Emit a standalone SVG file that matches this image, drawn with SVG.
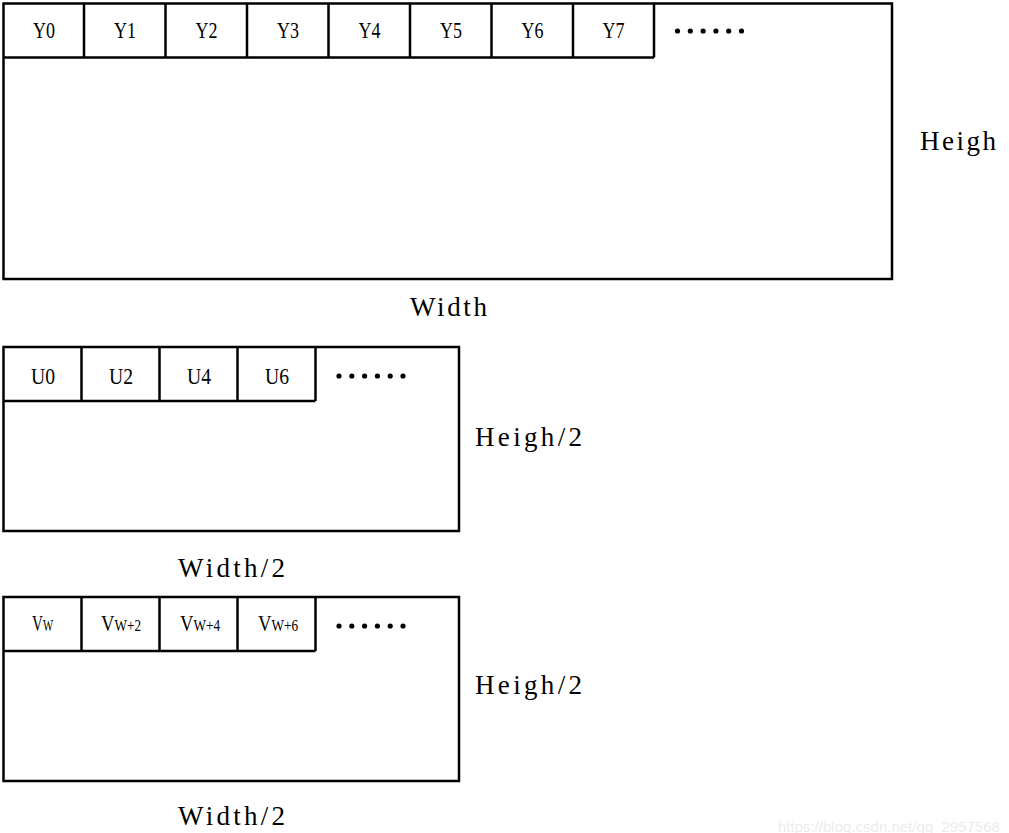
<svg xmlns="http://www.w3.org/2000/svg" width="1009" height="833" viewBox="0 0 1009 833">
<style>
.box{fill:#fff;stroke:#000;stroke-width:2.5}
.cell{fill:none;stroke:#000;stroke-width:2.5}
.lbl{font-family:"Liberation Serif","Times New Roman",serif;font-size:24px;fill:#000;text-anchor:middle}
.sub{font-size:17px}
.dim{font-family:"Liberation Serif","Times New Roman",serif;font-size:27px;fill:#000}
.dot{fill:#000}
.wm{font-family:"Liberation Sans",Arial,sans-serif;font-size:15px;fill:#ececec}
</style>
<defs>
<g id="dots">
<circle class="dot" cx="0" cy="0" r="2.6"/>
<circle class="dot" cx="12.8" cy="0" r="2.6"/>
<circle class="dot" cx="25.6" cy="0" r="2.6"/>
<circle class="dot" cx="38.4" cy="0" r="2.6"/>
<circle class="dot" cx="51.2" cy="0" r="2.6"/>
<circle class="dot" cx="64" cy="0" r="2.6"/>
</g>
</defs>
<rect width="1009" height="833" fill="#fff"/>

<g id="y-plane">
<rect class="box" x="3.5" y="3.5" width="888.5" height="275.5"/>
<path class="cell" d="M3.5 57.5H654M84 3.5V57.5M165.5 3.5V57.5M247 3.5V57.5M328.5 3.5V57.5M410 3.5V57.5M491.5 3.5V57.5M573 3.5V57.5M654 3.5V57.5"/>
<text class="lbl" x="44" y="38" textLength="22" lengthAdjust="spacingAndGlyphs">Y0</text>
<text class="lbl" x="125" y="38" textLength="22" lengthAdjust="spacingAndGlyphs">Y1</text>
<text class="lbl" x="206.5" y="38" textLength="22" lengthAdjust="spacingAndGlyphs">Y2</text>
<text class="lbl" x="288" y="38" textLength="22" lengthAdjust="spacingAndGlyphs">Y3</text>
<text class="lbl" x="369.5" y="38" textLength="22" lengthAdjust="spacingAndGlyphs">Y4</text>
<text class="lbl" x="451" y="38" textLength="22" lengthAdjust="spacingAndGlyphs">Y5</text>
<text class="lbl" x="532.5" y="38" textLength="22" lengthAdjust="spacingAndGlyphs">Y6</text>
<text class="lbl" x="613.5" y="38" textLength="22" lengthAdjust="spacingAndGlyphs">Y7</text>
<use href="#dots" x="677.5" y="31"/>
<text class="dim" x="920" y="150" textLength="76" lengthAdjust="spacing">Heigh</text>
<text class="dim" x="410" y="316" textLength="77" lengthAdjust="spacing">Width</text>
</g>

<g id="u-plane">
<rect class="box" x="3.5" y="347" width="455.5" height="184"/>
<path class="cell" d="M3.5 401H315.5M81.5 347V401M159.5 347V401M237.5 347V401M315.5 347V401"/>
<text class="lbl" x="43" y="384" textLength="24" lengthAdjust="spacingAndGlyphs">U0</text>
<text class="lbl" x="121" y="384" textLength="24" lengthAdjust="spacingAndGlyphs">U2</text>
<text class="lbl" x="199" y="384" textLength="24" lengthAdjust="spacingAndGlyphs">U4</text>
<text class="lbl" x="277" y="384" textLength="24" lengthAdjust="spacingAndGlyphs">U6</text>
<use href="#dots" x="339" y="376"/>
<text class="dim" x="475" y="446" textLength="107" lengthAdjust="spacing">Heigh/2</text>
<text class="dim" x="178" y="577" textLength="107" lengthAdjust="spacing">Width/2</text>
</g>

<g id="v-plane">
<rect class="box" x="3.5" y="597" width="455.5" height="184"/>
<path class="cell" d="M3.5 651H315.5M81.5 597V651M159.5 597V651M237.5 597V651M315.5 597V651"/>
<text class="lbl" transform="translate(42.5 631) scale(0.63 1)">V<tspan class="sub">W</tspan></text>
<text class="lbl" transform="translate(121 631) scale(0.78 1)">V<tspan class="sub">W+2</tspan></text>
<text class="lbl" transform="translate(200 631) scale(0.78 1)">V<tspan class="sub">W+4</tspan></text>
<text class="lbl" transform="translate(278 631) scale(0.78 1)">V<tspan class="sub">W+6</tspan></text>
<use href="#dots" x="339" y="626"/>
<text class="dim" x="475" y="694" textLength="107" lengthAdjust="spacing">Heigh/2</text>
<text class="dim" x="178" y="825" textLength="107" lengthAdjust="spacing">Width/2</text>
</g>

<g id="connectors"></g>

<text class="wm" x="778" y="832">https://blog.csdn.net/qq_2957568</text>
</svg>
